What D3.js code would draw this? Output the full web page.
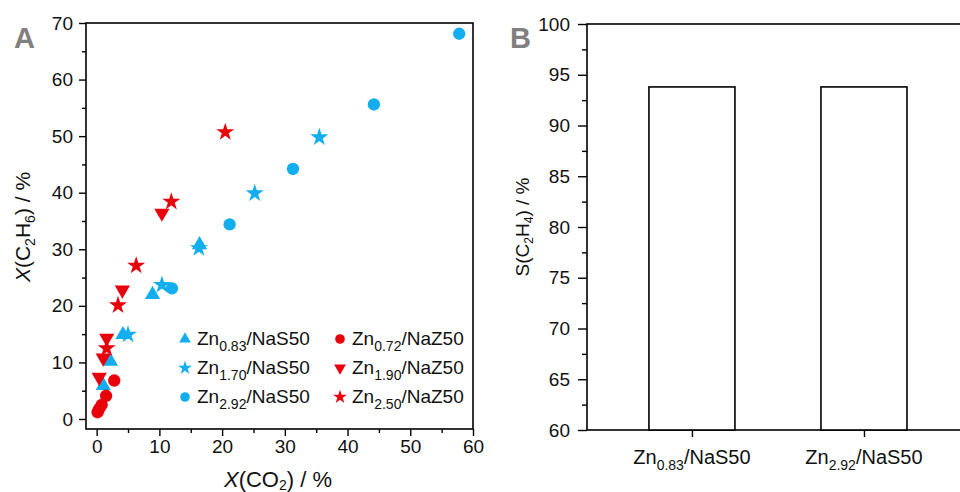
<!DOCTYPE html>
<html>
<head>
<meta charset="utf-8">
<script src="https://cdn.jsdelivr.net/npm/d3@7"></script>
<style>
  html, body { margin: 0; padding: 0; background: #fff; }
  svg { display: block; font-family: "Liberation Sans", Arial, sans-serif; }
</style>
</head>
<body>
<svg id="chart" width="960" height="492"></svg>
<script>
// ---------- DATA ----------
// Panel A: X(CO2) vs X(C2H6), six catalysts
const seriesNames = ["Zn0.83/NaS50", "Zn1.70/NaS50", "Zn2.92/NaS50", "Zn0.72/NaZ50", "Zn1.90/NaZ50", "Zn2.50/NaZ50"];
const seriesSub   = ["0.83", "1.70", "2.92", "0.72", "1.90", "2.50"];
const seriesTail  = ["/NaS50", "/NaS50", "/NaS50", "/NaZ50", "/NaZ50", "/NaZ50"];
const zn083_NaS50 = [[1.05, 5.9], [2.2, 10.2], [4.2, 14.9], [8.9, 22.0], [16.4, 30.8]];
const zn170_NaS50 = [[5.0, 14.9], [10.4, 23.7], [16.3, 30.2], [25.2, 39.9], [35.5, 49.8]];
const zn292_NaS50 = [[12.0, 23.1], [21.2, 34.4], [31.3, 44.2], [44.2, 55.6], [57.8, 68.1]];
const zn072_NaZ50 = [[0.15, 1.2], [0.4, 1.8], [0.8, 2.5], [1.5, 4.1], [2.8, 6.8]];
const zn190_NaZ50 = [[0.4, 7.4], [1.05, 10.8], [1.6, 14.3], [4.1, 22.8], [10.4, 36.4]];
const zn250_NaZ50 = [[1.6, 12.5], [3.4, 20.1], [6.3, 27.1], [11.9, 38.4], [20.5, 50.7]];
const xTicksA = [0, 10, 20, 30, 40, 50, 60];
const yTicksA = [0, 10, 20, 30, 40, 50, 60, 70];

// Panel B: C2H4 selectivity
const barCategories = ["Zn0.83/NaS50", "Zn2.92/NaS50"];
const barSub        = ["0.83", "2.92"];
const barValues     = [93.8, 93.8];
const yTicksB = [60, 65, 70, 75, 80, 85, 90, 95, 100];

// ---------- STYLE ----------
const BLUE = "#13aef0";
const RED  = "#e8000b";
const seriesData   = [zn083_NaS50, zn170_NaS50, zn292_NaS50, zn072_NaZ50, zn190_NaZ50, zn250_NaZ50];
const seriesColor  = [BLUE, BLUE, BLUE, RED, RED, RED];
const seriesShape  = ["tri", "star", "circle", "circle", "down", "star"];

const svg = d3.select("#chart");
const font = "Liberation Sans, Arial, sans-serif";

function symbolPath(shape, big) {
  const s = big ? 1 : 0.6;
  if (shape === "tri" || shape === "down") return d3.symbol(d3.symbolTriangle, 100 * s)();
  if (shape === "star") return d3.symbol(d3.symbolStar, 100 * s)();
  return d3.symbol(d3.symbolCircle, 120 * s)();
}

function subText(sel, main, sub, tail, fs, subFs) {
  sel.append("tspan").text(main);
  sel.append("tspan").text(sub).attr("font-size", subFs).attr("dy", fs * 0.3);
  sel.append("tspan").text(tail).attr("dy", -fs * 0.3);
}

// ---------- PANEL A ----------
const A = { left: 86, right: 473, top: 23, bottom: 429 };
const xA = d3.scaleLinear().domain([-1.7, 60]).range([A.left, A.right]);
const yA = d3.scaleLinear().domain([-1.77, 70]).range([A.bottom, A.top]);

const gA = svg.append("g");
gA.append("rect").attr("x", A.left).attr("y", A.top)
  .attr("width", A.right - A.left).attr("height", A.bottom - A.top)
  .attr("fill", "none").attr("stroke", "#000").attr("stroke-width", 1.6);

const xAxisA = d3.axisBottom(xA).tickValues(xTicksA).tickSize(7).tickPadding(4).tickSizeOuter(0);
gA.append("g").attr("transform", `translate(0,${A.bottom})`).call(xAxisA);
gA.append("g").attr("transform", `translate(0,${A.bottom})`)
  .call(d3.axisBottom(xA).tickValues(d3.range(5, 60, 10)).tickSize(4).tickFormat("").tickSizeOuter(0));

const yAxisA = d3.axisLeft(yA).tickValues(yTicksA).tickSize(7).tickPadding(6).tickSizeOuter(0);
gA.append("g").attr("transform", `translate(${A.left},0)`).call(yAxisA);
gA.append("g").attr("transform", `translate(${A.left},0)`)
  .call(d3.axisLeft(yA).tickValues(d3.range(5, 70, 10)).tickSize(4).tickFormat("").tickSizeOuter(0));

gA.selectAll(".domain").remove();
gA.selectAll(".tick line").attr("stroke", "#000").attr("stroke-width", 1.4);
gA.selectAll(".tick text").attr("font-size", 19).attr("font-family", font).attr("fill", "#111");

seriesData.forEach((data, i) => {
  gA.append("g").selectAll("path").data(data).enter().append("path")
    .attr("d", symbolPath(seriesShape[i], true))
    .attr("transform", d => `translate(${xA(d[0])},${yA(d[1])})` + (seriesShape[i] === "down" ? " rotate(180)" : ""))
    .attr("fill", seriesColor[i]);
});

// legend
const legX = [185, 340], legY = [339, 368, 397];
seriesNames.forEach((name, i) => {
  const col = Math.floor(i / 3), row = i % 3;
  const g = gA.append("g").attr("transform", `translate(${legX[col]},${legY[row]})`);
  g.append("path").attr("d", symbolPath(seriesShape[i], false))
    .attr("transform", seriesShape[i] === "down" ? "rotate(180)" : null)
    .attr("fill", seriesColor[i]);
  const t = g.append("text").attr("x", 12).attr("y", 6).attr("font-size", 19).attr("fill", "#111");
  subText(t, "Zn", seriesSub[i], seriesTail[i], 19, 14);
});

// axis titles
const ytA = gA.append("text").attr("transform", `translate(30,227) rotate(-90)`)
  .attr("text-anchor", "middle").attr("font-size", 21).attr("fill", "#111");
ytA.append("tspan").text("X").attr("font-style", "italic");
ytA.append("tspan").text("(C");
ytA.append("tspan").text("2").attr("font-size", 14).attr("dy", 5);
ytA.append("tspan").text("H").attr("dy", -5);
ytA.append("tspan").text("6").attr("font-size", 14).attr("dy", 5);
ytA.append("tspan").text(") / %").attr("dy", -5);

const xtA = gA.append("text").attr("x", 278).attr("y", 487)
  .attr("text-anchor", "middle").attr("font-size", 22).attr("fill", "#111");
xtA.append("tspan").text("X").attr("font-style", "italic");
xtA.append("tspan").text("(CO");
xtA.append("tspan").text("2").attr("font-size", 14).attr("dy", 3);
xtA.append("tspan").text(") / %").attr("dy", -3);

svg.append("text").attr("x", 14).attr("y", 48).text("A")
  .attr("font-size", 29).attr("font-weight", "bold").attr("fill", "#808080");

// ---------- PANEL B ----------
const B = { left: 587, right: 961, top: 24, bottom: 430 };
const catIndex = barCategories.map((c, i) => i + 1);
const xB = d3.scaleLinear().domain([0.39, 2.564]).range([B.left, B.right]);
const barW = 0.5;
const yB = d3.scaleLinear().domain([60, 100]).range([B.bottom, B.top]);

const gB = svg.append("g");
gB.append("rect").attr("x", B.left).attr("y", B.top)
  .attr("width", B.right - B.left).attr("height", B.bottom - B.top)
  .attr("fill", "none").attr("stroke", "#000").attr("stroke-width", 1.6);

gB.selectAll(".bar").data(barValues).enter().append("rect")
  .attr("x", (d, i) => xB(catIndex[i] - barW / 2))
  .attr("y", d => yB(d))
  .attr("width", (d, i) => xB(catIndex[i] + barW / 2) - xB(catIndex[i] - barW / 2))
  .attr("height", d => yB(60) - yB(d))
  .attr("fill", "#fff").attr("stroke", "#000").attr("stroke-width", 1.6);

const yAxisB = d3.axisLeft(yB).tickValues(yTicksB).tickSize(9).tickPadding(8).tickSizeOuter(0);
gB.append("g").attr("transform", `translate(${B.left},0)`).call(yAxisB);
gB.append("g").attr("transform", `translate(${B.left},0)`)
  .call(d3.axisLeft(yB).tickValues(d3.range(62.5, 100, 5)).tickSize(5).tickFormat("").tickSizeOuter(0));

const xAxisB = d3.axisBottom(xB).tickValues(catIndex).tickSize(7).tickFormat("").tickSizeOuter(0);
gB.append("g").attr("transform", `translate(0,${B.bottom})`).call(xAxisB);

gB.selectAll(".domain").remove();
gB.selectAll(".tick line").attr("stroke", "#000").attr("stroke-width", 1.4);
gB.selectAll(".tick text").attr("font-size", 19).attr("font-family", font).attr("fill", "#111");

barCategories.forEach((c, i) => {
  const t = gB.append("text").attr("x", xB(catIndex[i])).attr("y", 464)
    .attr("text-anchor", "middle").attr("font-size", 20).attr("fill", "#111");
  subText(t, "Zn", barSub[i], "/NaS50", 20, 14);
});

const ytB = gB.append("text").attr("transform", `translate(529,227) rotate(-90)`)
  .attr("text-anchor", "middle").attr("font-size", 19).attr("fill", "#111");
ytB.append("tspan").text("S(C");
ytB.append("tspan").text("2").attr("font-size", 12).attr("dy", 4);
ytB.append("tspan").text("H").attr("dy", -4);
ytB.append("tspan").text("4").attr("font-size", 12).attr("dy", 4);
ytB.append("tspan").text(") / %").attr("dy", -4);

svg.append("text").attr("x", 510).attr("y", 48).text("B")
  .attr("font-size", 29).attr("font-weight", "bold").attr("fill", "#808080");
</script>
</body>
</html>
